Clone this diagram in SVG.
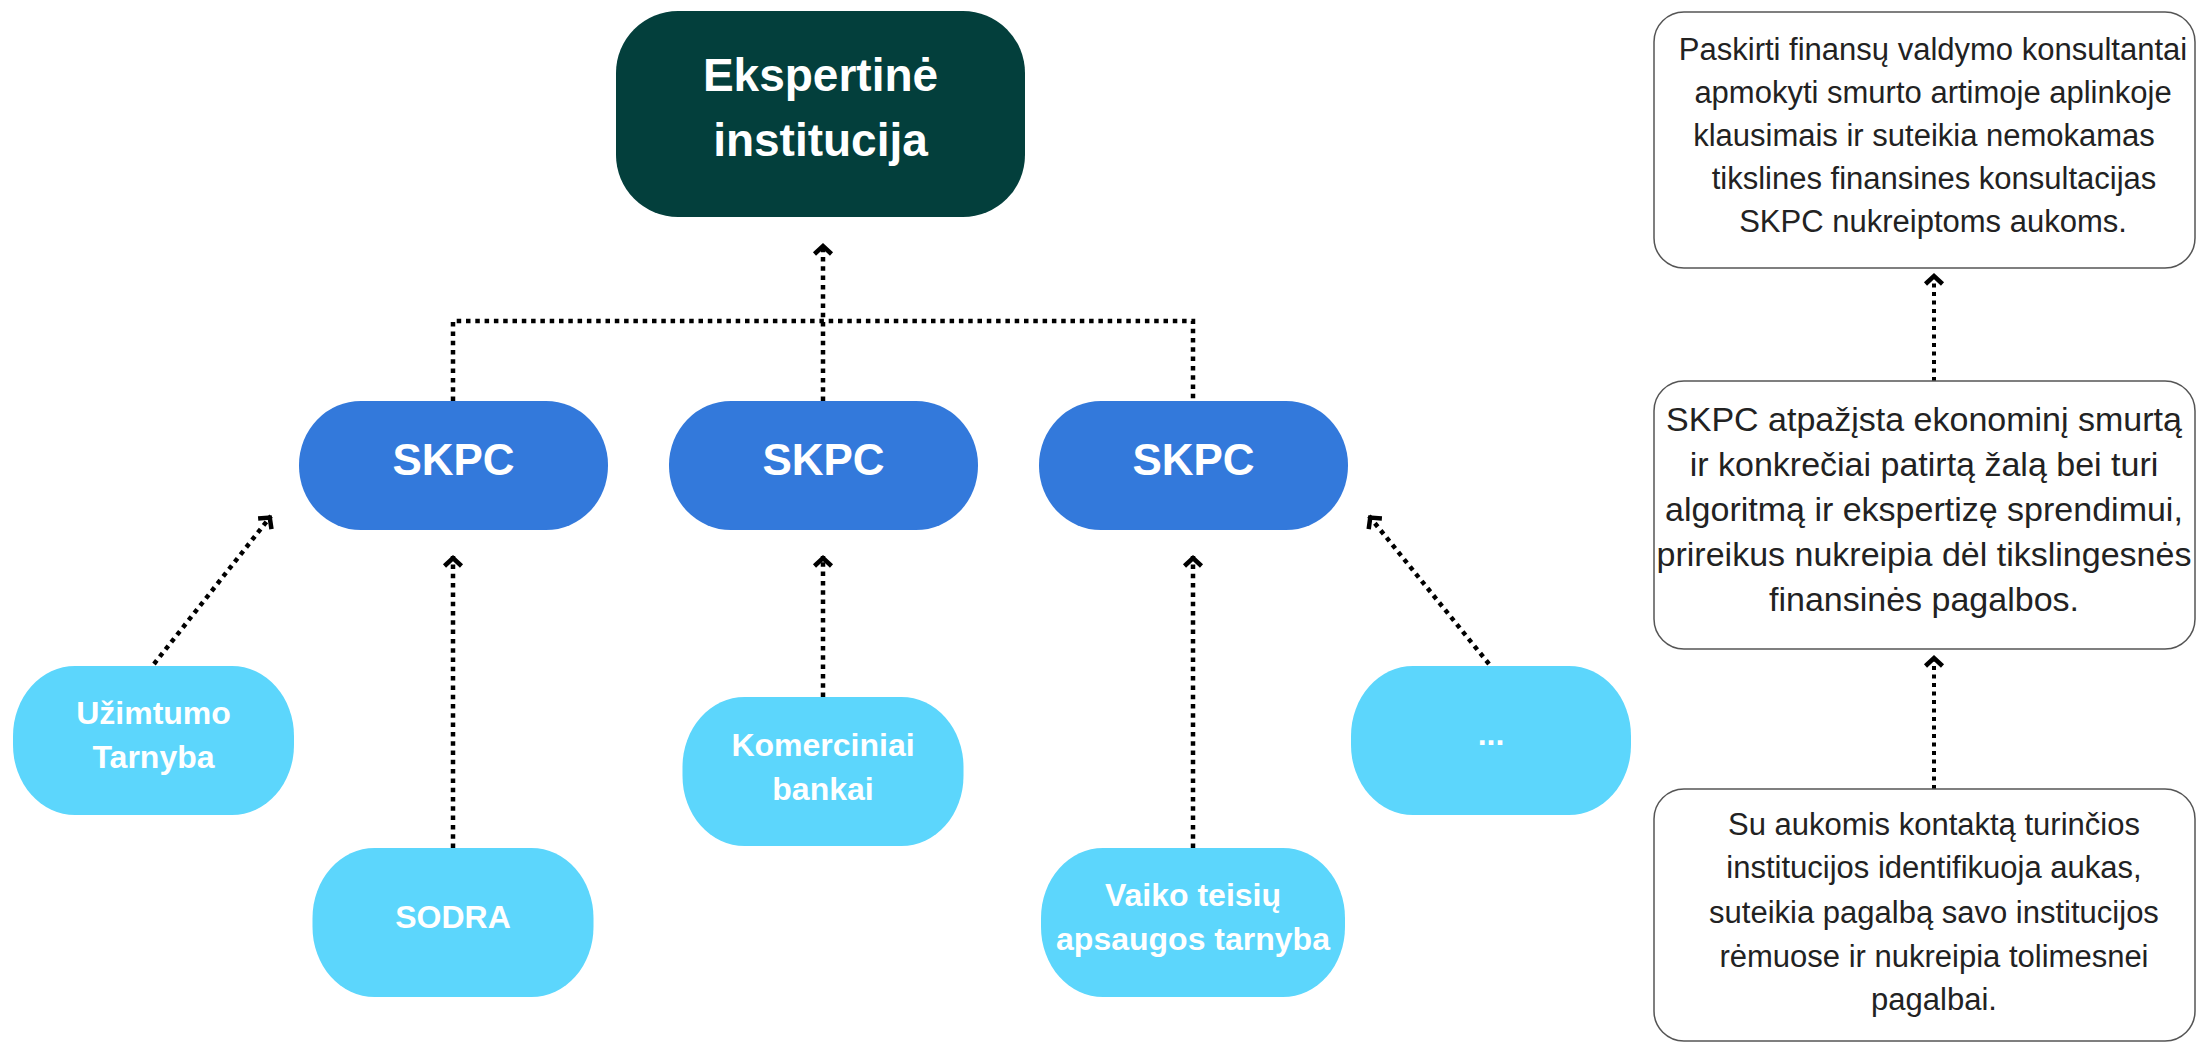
<svg xmlns="http://www.w3.org/2000/svg" width="2197" height="1044" viewBox="0 0 2197 1044">
<style>
.bold{font-family:"Liberation Sans",Arial,sans-serif;font-weight:bold;fill:#ffffff;text-anchor:middle}
.top{font-size:46px}
.skpc{font-size:44px}
.small{font-size:32px}
.desc{font-family:"Liberation Sans",Arial,sans-serif;font-size:31px;fill:#222222;text-anchor:middle}
.desc2{font-size:34px}
.dark{fill:#033f3c}
.mid{fill:#3379db}
.light{fill:#5cd6fc}
.box{fill:#ffffff;stroke:#555555;stroke-width:1.5}
.dot{fill:none;stroke:#000000;stroke-width:4.5;stroke-dasharray:4.5 4.8}
.dot2{fill:none;stroke:#000000;stroke-width:4;stroke-dasharray:4 4.5}
</style>
<defs>
<marker id="ah" viewBox="-14 -12 18 24" refX="2" refY="0" markerWidth="18" markerHeight="24" markerUnits="userSpaceOnUse" orient="auto" overflow="visible">
<path d="M-8,-8.5 L0,0 L-8,8.5" fill="none" stroke="#000000" stroke-width="4.5"/>
</marker>
</defs>
<rect width="2197" height="1044" fill="#ffffff"/>

<g id="connectors">
<polyline class="dot" points="453,401 453,321 1193,321 1193,401"/>
<line class="dot" x1="823" y1="401" x2="823" y2="244" marker-end="url(#ah)"/>
<line class="dot" x1="154" y1="664" x2="271" y2="516" marker-end="url(#ah)"/>
<line class="dot" x1="453" y1="848" x2="453" y2="556" marker-end="url(#ah)"/>
<line class="dot" x1="823" y1="697" x2="823" y2="556" marker-end="url(#ah)"/>
<line class="dot" x1="1193" y1="848" x2="1193" y2="556" marker-end="url(#ah)"/>
<line class="dot" x1="1489" y1="664" x2="1369" y2="516" marker-end="url(#ah)"/>
<line class="dot2" x1="1934" y1="789" x2="1934" y2="656" marker-end="url(#ah)"/>
<line class="dot2" x1="1934" y1="381" x2="1934" y2="274" marker-end="url(#ah)"/>
</g>

<g id="node-ekspertine">
<rect class="dark" x="616" y="11" width="409" height="206" rx="62" ry="62"/>
<text class="bold top" x="820.5" y="91">Ekspertinė</text>
<text class="bold top" x="820.5" y="156">institucija</text>
</g>

<g id="node-skpc1">
<rect class="mid" x="299" y="401" width="309" height="129" rx="62" ry="64"/>
<text class="bold skpc" x="453.5" y="475">SKPC</text>
</g>
<g id="node-skpc2">
<rect class="mid" x="669" y="401" width="309" height="129" rx="62" ry="64"/>
<text class="bold skpc" x="823.5" y="475">SKPC</text>
</g>
<g id="node-skpc3">
<rect class="mid" x="1039" y="401" width="309" height="129" rx="62" ry="64"/>
<text class="bold skpc" x="1193.5" y="475">SKPC</text>
</g>

<g id="node-uzimtumo">
<rect class="light" x="13" y="666" width="281" height="149" rx="62" ry="70"/>
<text class="bold small" x="153.5" y="724">Užimtumo</text>
<text class="bold small" x="153.5" y="768">Tarnyba</text>
</g>
<g id="node-sodra">
<rect class="light" x="312.5" y="848" width="281" height="149" rx="62" ry="70"/>
<text class="bold small" x="453" y="928">SODRA</text>
</g>
<g id="node-komerciniai">
<rect class="light" x="682.5" y="697" width="281" height="149" rx="62" ry="70"/>
<text class="bold small" x="823" y="756">Komerciniai</text>
<text class="bold small" x="823" y="800">bankai</text>
</g>
<g id="node-vaiko">
<rect class="light" x="1041" y="848" width="304" height="149" rx="62" ry="70"/>
<text class="bold small" x="1193" y="906">Vaiko teisių</text>
<text class="bold small" x="1193" y="950">apsaugos tarnyba</text>
</g>
<g id="node-etc">
<rect class="light" x="1351" y="666" width="280" height="149" rx="62" ry="70"/>
<text class="bold small" x="1491" y="745">...</text>
</g>

<g id="node-desc1">
<rect class="box" x="1654" y="12" width="541" height="256" rx="30" ry="30"/>
<text class="desc" x="1933" y="60">Paskirti finansų valdymo konsultantai</text>
<text class="desc" x="1933" y="103">apmokyti smurto artimoje aplinkoje</text>
<text class="desc" x="1924" y="146">klausimais ir suteikia nemokamas</text>
<text class="desc" x="1934" y="189">tikslines finansines konsultacijas</text>
<text class="desc" x="1933" y="232">SKPC nukreiptoms aukoms.</text>
</g>
<g id="node-desc2">
<rect class="box" x="1654" y="381" width="541" height="268" rx="30" ry="30"/>
<text class="desc desc2" x="1924" y="431">SKPC atpažįsta ekonominį smurtą</text>
<text class="desc desc2" x="1924" y="476">ir konkrečiai patirtą žalą bei turi</text>
<text class="desc desc2" x="1924" y="521">algoritmą ir ekspertizę sprendimui,</text>
<text class="desc desc2" x="1924" y="566">prireikus nukreipia dėl tikslingesnės</text>
<text class="desc desc2" x="1924" y="611">finansinės pagalbos.</text>
</g>
<g id="node-desc3">
<rect class="box" x="1654" y="789" width="541" height="252" rx="30" ry="30"/>
<text class="desc" x="1934" y="835">Su aukomis kontaktą turinčios</text>
<text class="desc" x="1934" y="878">institucijos identifikuoja aukas,</text>
<text class="desc" x="1934" y="923">suteikia pagalbą savo institucijos</text>
<text class="desc" x="1934" y="967">rėmuose ir nukreipia tolimesnei</text>
<text class="desc" x="1934" y="1010">pagalbai.</text>
</g>
</svg>
